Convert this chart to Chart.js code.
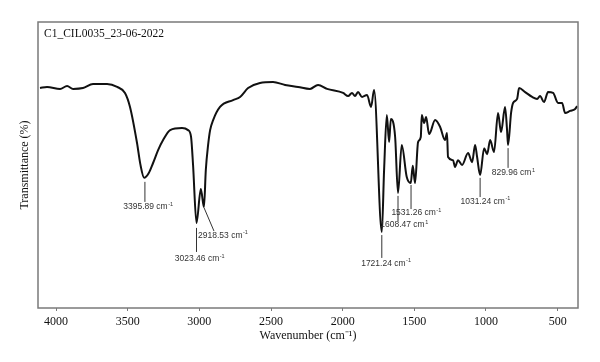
<!DOCTYPE html>
<html lang="en">
<head>
    <meta charset="UTF-8">
    <title>FTIR spectrum C1_CIL0035</title>
    <script src="https://cdn.jsdelivr.net/npm/chart.js"></script>
    <style>
        body { margin: 0; background: #fff; }
    </style>
</head>
<body>
    <canvas id="irChart" width="600" height="362"></canvas>

    <script>
        // spectrum (wavenumber in cm-1, transmittance in arbitrary %)
        var wavenumber = [4112, 4063, 3972, 3923, 3881, 3812, 3742, 3644, 3574, 3519, 3484, 3435, 3412, 3385, 3355,
            3323, 3288, 3253, 3204, 3121, 3079, 3058, 3044, 3020, 2990, 2968, 2955, 2939, 2925, 2904, 2856, 2765,
            2716, 2660, 2577, 2486, 2402, 2311, 2228, 2172, 2109, 1997, 1962, 1935, 1914, 1893, 1865, 1830, 1802,
            1781, 1727, 1711, 1692, 1676, 1664, 1634, 1614, 1588, 1553, 1525, 1511, 1495, 1474, 1455, 1448, 1432,
            1418, 1397, 1355, 1320, 1286, 1272, 1265, 1230, 1216, 1195, 1167, 1125, 1097, 1076, 1062, 1041, 1013,
            992, 971, 944, 916, 895, 867, 853, 846, 825, 811, 783, 769, 727, 678, 643, 623, 595, 567, 532, 497,
            469, 448, 413, 378, 364];
        var transmittance = [76.9, 77.3, 76.6, 77.6, 76.6, 76.9, 78.3, 78.3, 77.3, 75.2, 70.3, 57.7, 50.3, 45.5, 47.0,
            50.7, 55.2, 58.7, 62.2, 62.9, 62.2, 59.8, 50.0, 29.7, 41.6, 35.3, 48.3, 57.0, 62.2, 65.7, 70.3, 72.7,
            73.8, 76.9, 78.7, 79.0, 78.0, 77.3, 76.6, 78.0, 76.6, 75.2, 74.1, 75.2, 74.1, 75.5, 73.8, 74.5, 70.3,
            76.2, 26.6, 48.3, 67.5, 58.0, 66.1, 59.8, 40.2, 57.0, 45.8, 43.7, 49.7, 43.7, 58.0, 59.8, 67.5, 64.7,
            66.8, 60.8, 65.7, 63.3, 58.7, 61.2, 52.8, 51.7, 49.3, 51.7, 50.0, 54.2, 51.0, 57.0, 52.8, 46.5, 55.9,
            53.8, 58.7, 54.5, 68.2, 61.5, 70.3, 62.2, 57.0, 68.2, 71.7, 73.1, 76.9, 75.5, 73.8, 73.1, 74.1, 72.0,
            75.5, 75.2, 71.7, 71.7, 68.2, 68.9, 69.6, 70.6];

        var xTicks = [4000, 3500, 3000, 2500, 2000, 1500, 1000, 500];

        // peak labels
        var peakWn = [3380, 3020, 2967, 1727, 1614, 1523, 1041, 846];
        var peakText = ['3395.89 cm', '3023.46 cm', '2918.53 cm', '1721.24 cm', '1608.47 cm', '1531.26 cm', '1031.24 cm', '829.96 cm'];
        var peakSup = ['-1', '-1', '-1', '-1', '1', '-1', '-1', '1'];

        // where each marker line and its text sit (y in transmittance units, text x offset in px)
        var peakLayout = [
            { y1: 44.1, y2: 37.1, ty: 35.3, dx: 3 },
            { y1: 28.0, y2: 19.6, ty: 17.1, dx: 3 },
            { y1: 35.0, y2: 26.9, ty: 25.2, x2: 2898, textX: 3009, left: true },
            { y1: 25.5, y2: 17.5, ty: 15.4, dx: 4 },
            { y1: 39.2, y2: 30.4, ty: 29.0, dx: 6 },
            { y1: 43.0, y2: 34.6, ty: 33.2, dx: 5 },
            { y1: 45.5, y2: 38.8, ty: 37.1, dx: 5 },
            { y1: 55.9, y2: 49.0, ty: 47.2, dx: 5 }
        ];

        var points = wavenumber.map(function (w, i) { return { x: w, y: transmittance[i] }; });

        var framePlugin = {
            id: 'frame',
            afterDraw: function (chart) {
                var ctx = chart.ctx, a = chart.chartArea;
                var xs = chart.scales.x, ys = chart.scales.y;
                ctx.save();
                ctx.strokeStyle = '#7a7a7a';
                ctx.lineWidth = 1.5;
                ctx.strokeRect(a.left, a.top, a.right - a.left, a.bottom - a.top);

                ctx.fillStyle = '#111';
                ctx.font = '11.5px "Liberation Serif"';
                ctx.textBaseline = 'middle';
                ctx.textAlign = 'left';
                ctx.fillText('C1_CIL0035_23-06-2022', a.left + 6, a.top + 12);

                // peak markers
                ctx.strokeStyle = '#333';
                ctx.lineWidth = 1;
                ctx.fillStyle = '#333';
                for (var i = 0; i < peakWn.length; i++) {
                    var L = peakLayout[i];
                    var x1 = xs.getPixelForValue(peakWn[i]);
                    var x2 = L.x2 ? xs.getPixelForValue(L.x2) : x1;
                    ctx.beginPath();
                    ctx.moveTo(x1, ys.getPixelForValue(L.y1));
                    ctx.lineTo(x2, ys.getPixelForValue(L.y2));
                    ctx.stroke();

                    ctx.font = '8.5px "Liberation Sans"';
                    var w1 = ctx.measureText(peakText[i]).width;
                    ctx.font = '5.5px "Liberation Sans"';
                    var w2 = ctx.measureText(peakSup[i]).width;
                    var tx = L.left ? xs.getPixelForValue(L.textX) : x1 + L.dx - (w1 + w2) / 2;
                    var ty = ys.getPixelForValue(L.ty);
                    ctx.font = '8.5px "Liberation Sans"';
                    ctx.fillText(peakText[i], tx, ty);
                    ctx.font = '5.5px "Liberation Sans"';
                    ctx.fillText(peakSup[i], tx + w1 + 0.5, ty - 3);
                }
                ctx.restore();
            }
        };

        var ctx = document.getElementById('irChart').getContext('2d');
        var irChart = new Chart(ctx, {
            type: 'line',
            data: {
                datasets: [{
                    data: points,
                    borderColor: '#111',
                    borderWidth: 2,
                    pointRadius: 0,
                    cubicInterpolationMode: 'monotone',
                    fill: false
                }]
            },
            options: {
                responsive: false,
                animation: false,
                devicePixelRatio: 1,
                layout: { padding: { top: 22, right: 22, left: 0, bottom: 0 } },
                plugins: { legend: { display: false }, tooltip: { enabled: false } },
                scales: {
                    x: {
                        type: 'linear',
                        reverse: true,
                        min: 358,
                        max: 4126,
                        afterBuildTicks: function (axis) {
                            axis.ticks = xTicks.map(function (v) { return { value: v }; });
                        },
                        afterFit: function (axis) { axis.height = 54; },
                        border: { display: false },
                        grid: { drawOnChartArea: false, color: '#7a7a7a', tickLength: 3, tickWidth: 1 },
                        ticks: {
                            color: '#111',
                            font: { family: '"Liberation Serif"', size: 12 },
                            padding: 4,
                            maxRotation: 0,
                            callback: function (v) { return String(v); }
                        },
                        title: {
                            display: true,
                            text: 'Wavenumber (cm⁻¹)',
                            color: '#111',
                            font: { family: '"Liberation Serif"', size: 12 },
                            padding: { top: 0, bottom: 19 }
                        }
                    },
                    y: {
                        min: 0,
                        max: 100,
                        afterFit: function (axis) { axis.width = 38; },
                        border: { display: false },
                        grid: { display: false },
                        ticks: { display: false },
                        title: {
                            display: true,
                            text: 'Transmittance (%)',
                            color: '#111',
                            font: { family: '"Liberation Serif"', size: 12 },
                            padding: { top: 18, bottom: 0 }
                        }
                    }
                }
            },
            plugins: [framePlugin]
        });
    </script>
</body>
</html>
